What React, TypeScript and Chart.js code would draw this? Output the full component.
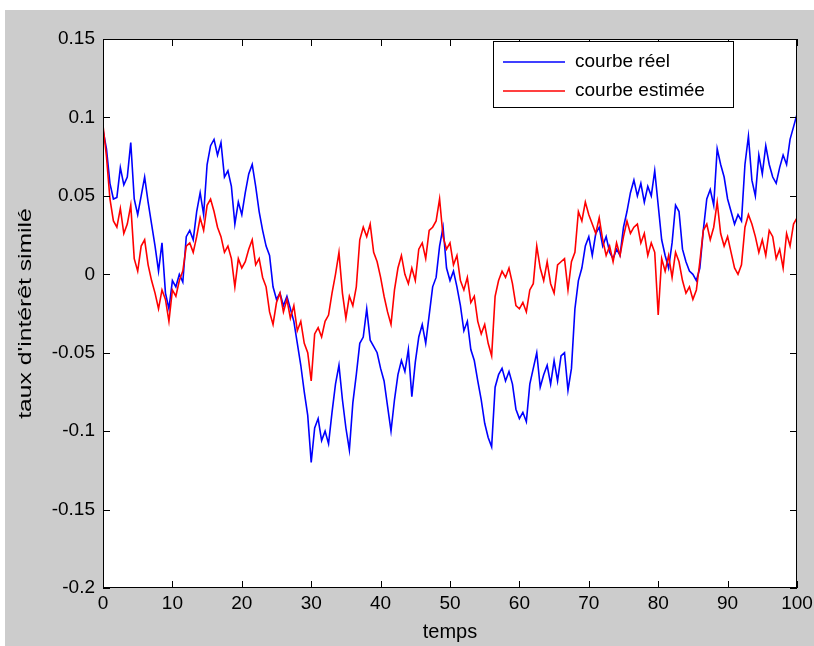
import React, { useEffect, useRef } from "react";
import { Chart, registerables } from "chart.js";

Chart.register(...registerables);

// time step between samples (temps)
const TIME_STEP = 0.5;

const realValues = [
  0.092, 0.080, 0.058, 0.048, 0.049, 0.068, 0.057, 0.062, 0.084, 0.048,
  0.038, 0.050, 0.062, 0.046, 0.032, 0.018, 0.002, 0.020, -0.012, -0.022,
  -0.004, -0.008, 0.000, -0.005, 0.024, 0.028, 0.022, 0.040, 0.052, 0.038,
  0.070, 0.082, 0.086, 0.076, 0.084, 0.062, 0.066, 0.056, 0.032, 0.046,
  0.038, 0.052, 0.064, 0.070, 0.056, 0.040, 0.028, 0.018, 0.012, -0.008,
  -0.016, -0.012, -0.020, -0.014, -0.022, -0.030, -0.044, -0.058, -0.075, -0.090,
  -0.120, -0.098, -0.092, -0.106, -0.100, -0.108, -0.088, -0.070, -0.058, -0.080,
  -0.098, -0.112, -0.082, -0.064, -0.044, -0.040, -0.022, -0.042, -0.046, -0.050,
  -0.060, -0.068, -0.084, -0.100, -0.080, -0.064, -0.055, -0.062, -0.048, -0.078,
  -0.056, -0.040, -0.032, -0.044, -0.026, -0.008, -0.002, 0.018, 0.030, 0.004,
  -0.004, 0.002, -0.008, -0.020, -0.036, -0.030, -0.048, -0.055, -0.068, -0.080,
  -0.095, -0.104, -0.110, -0.072, -0.064, -0.060, -0.068, -0.062, -0.070, -0.086,
  -0.092, -0.088, -0.094, -0.070, -0.060, -0.050, -0.072, -0.064, -0.058, -0.070,
  -0.055, -0.068, -0.052, -0.050, -0.074, -0.060, -0.022, -0.004, 0.004, 0.018,
  0.024, 0.012, 0.026, 0.030, 0.018, 0.024, 0.014, 0.010, 0.016, 0.012,
  0.030, 0.040, 0.052, 0.060, 0.050, 0.058, 0.046, 0.056, 0.050, 0.066,
  0.044, 0.022, 0.012, 0.004, 0.020, 0.044, 0.040, 0.016, 0.008, 0.002,
  0.000, -0.004, 0.004, 0.028, 0.048, 0.054, 0.044, 0.080, 0.070, 0.062,
  0.048, 0.040, 0.032, 0.038, 0.034, 0.070, 0.088, 0.060, 0.050, 0.076,
  0.064, 0.082, 0.070, 0.062, 0.058, 0.068, 0.076, 0.070, 0.086, 0.094,
  0.102,
];

const estimatedValues = [
  0.095, 0.075, 0.048, 0.034, 0.030, 0.042, 0.026, 0.032, 0.044, 0.010,
  0.002, 0.018, 0.022, 0.006, -0.004, -0.012, -0.022, -0.010, -0.016, -0.030,
  -0.010, -0.014, -0.004, 0.002, 0.018, 0.020, 0.014, 0.024, 0.036, 0.028,
  0.044, 0.048, 0.040, 0.030, 0.024, 0.014, 0.018, 0.010, -0.008, 0.010,
  0.004, 0.008, 0.016, 0.022, 0.006, 0.010, -0.002, -0.008, -0.024, -0.032,
  -0.018, -0.012, -0.024, -0.016, -0.028, -0.020, -0.036, -0.030, -0.044, -0.050,
  -0.068, -0.038, -0.034, -0.040, -0.030, -0.026, -0.012, 0.000, 0.014, -0.012,
  -0.028, -0.014, -0.020, -0.008, 0.022, 0.030, 0.024, 0.032, 0.014, 0.008,
  -0.002, -0.014, -0.024, -0.032, -0.010, 0.004, 0.012, 0.000, -0.006, 0.004,
  -0.004, 0.016, 0.020, 0.010, 0.028, 0.030, 0.034, 0.048, 0.024, 0.016,
  0.020, 0.006, 0.012, -0.004, -0.010, -0.002, -0.018, -0.014, -0.030, -0.038,
  -0.032, -0.044, -0.052, -0.014, -0.004, 0.002, -0.002, 0.004, -0.006, -0.020,
  -0.022, -0.018, -0.024, -0.010, -0.006, 0.018, 0.004, -0.004, 0.008, -0.006,
  -0.012, 0.006, 0.008, 0.010, -0.010, 0.008, 0.014, 0.040, 0.034, 0.046,
  0.038, 0.032, 0.026, 0.036, 0.022, 0.012, 0.018, 0.008, 0.020, 0.012,
  0.024, 0.034, 0.026, 0.030, 0.032, 0.020, 0.026, 0.012, 0.020, 0.014,
  -0.026, 0.010, 0.002, 0.012, -0.002, 0.014, 0.008, -0.004, -0.012, -0.008,
  -0.016, -0.010, 0.008, 0.028, 0.032, 0.022, 0.030, 0.046, 0.026, 0.018,
  0.024, 0.014, 0.004, 0.000, 0.006, 0.030, 0.038, 0.032, 0.024, 0.014,
  0.022, 0.012, 0.028, 0.024, 0.010, 0.016, 0.004, 0.026, 0.018, 0.032,
  0.036,
];

const xTickValues = [0, 10, 20, 30, 40, 50, 60, 70, 80, 90, 100];
const yTickValues = [-0.2, -0.15, -0.1, -0.05, 0, 0.05, 0.1, 0.15];

const seriesLabels = ["courbe réel", "courbe estimée"];
const seriesColors = ["#0000ff", "#ff0000"];
const xTitle = "temps";
const yTitle = "taux d'intérêt similé";

const FONT_FAMILY = '"Liberation Sans", Arial, Helvetica, sans-serif';

const matlabPlugin = {
  id: "matlabDecor",
  afterDraw(chart: any) {
    const ctx = chart.ctx;
    const { left, right, top, bottom } = chart.chartArea;
    const xs = chart.scales.x;
    const ys = chart.scales.y;
    ctx.save();
    ctx.strokeStyle = "#000";
    ctx.lineWidth = 1;
    // box
    ctx.strokeRect(left + 0.5, top + 0.5, right - left - 1, bottom - top - 1);
    // inward ticks
    const tl = 7;
    ctx.beginPath();
    xTickValues.forEach((v) => {
      const px = Math.round(xs.getPixelForValue(v)) + 0.5;
      ctx.moveTo(px, bottom);
      ctx.lineTo(px, bottom - tl);
      ctx.moveTo(px, top);
      ctx.lineTo(px, top + tl);
    });
    yTickValues.forEach((v) => {
      const py = Math.round(ys.getPixelForValue(v)) + 0.5;
      ctx.moveTo(left, py);
      ctx.lineTo(left + tl, py);
      ctx.moveTo(right, py);
      ctx.lineTo(right - tl, py);
    });
    ctx.stroke();

    // y axis title (stretched along its length like the reference)
    ctx.save();
    ctx.translate(26, (top + bottom) / 2);
    ctx.rotate(-Math.PI / 2);
    ctx.scale(1.3, 1);
    ctx.font = `19px ${FONT_FAMILY}`;
    ctx.fillStyle = "#000";
    ctx.textAlign = "center";
    ctx.textBaseline = "middle";
    ctx.fillText(yTitle, 0, 0);
    ctx.restore();

    // legend box
    const lx = 493;
    const ly = 41;
    const lw = 240;
    const lh = 66;
    ctx.fillStyle = "#ffffff";
    ctx.fillRect(lx, ly, lw, lh);
    ctx.strokeStyle = "#000";
    ctx.strokeRect(lx + 0.5, ly + 0.5, lw, lh);
    ctx.font = `19px ${FONT_FAMILY}`;
    ctx.textBaseline = "middle";
    ctx.textAlign = "left";
    seriesLabels.forEach((label, i) => {
      const yy = ly + 21 + i * 29;
      ctx.strokeStyle = seriesColors[i];
      ctx.lineWidth = 1.5;
      ctx.beginPath();
      ctx.moveTo(lx + 10, yy);
      ctx.lineTo(lx + 72, yy);
      ctx.stroke();
      ctx.fillStyle = "#000";
      ctx.fillText(label, lx + 82, yy);
    });
    ctx.restore();
  },
};

export default function App() {
  const canvasRef = useRef<HTMLCanvasElement | null>(null);

  useEffect(() => {
    if (!canvasRef.current) return;
    const toPoints = (vals: number[]) =>
      vals.map((v, i) => ({ x: i * TIME_STEP, y: v }));

    const chart = new Chart(canvasRef.current, {
      type: "line",
      data: {
        datasets: [
          {
            label: seriesLabels[0],
            data: toPoints(realValues),
            borderColor: seriesColors[0],
            borderWidth: 1.6,
            pointRadius: 0,
            tension: 0,
            order: 2,
          },
          {
            label: seriesLabels[1],
            data: toPoints(estimatedValues),
            borderColor: seriesColors[1],
            borderWidth: 1.6,
            pointRadius: 0,
            tension: 0,
            order: 1,
          },
        ],
      },
      options: {
        animation: false,
        responsive: false,
        events: [],
        layout: { padding: { left: 8, top: 39, right: 17, bottom: 2 } },
        plugins: {
          legend: { display: false },
          tooltip: { enabled: false },
        },
        scales: {
          x: {
            type: "linear",
            min: 0,
            max: 100,
            afterBuildTicks: (scale: any) => {
              scale.ticks = xTickValues.map((v) => ({ value: v }));
            },
            afterFit: (scale: any) => {
              scale.height = 56;
              scale.paddingLeft = 0;
              scale.paddingRight = 0;
            },
            ticks: {
              color: "#000",
              font: { family: FONT_FAMILY, size: 19 },
              padding: 4,
              maxRotation: 0,
              autoSkip: false,
              callback: (v: any) => String(v),
            },
            grid: { display: false, drawTicks: false },
            border: { display: false },
            title: {
              display: true,
              text: xTitle,
              color: "#000",
              font: { family: FONT_FAMILY, size: 20 },
              padding: { top: 0, bottom: 0 },
            },
          },
          y: {
            type: "linear",
            min: -0.2,
            max: 0.15,
            afterBuildTicks: (scale: any) => {
              scale.ticks = yTickValues.map((v) => ({ value: v }));
            },
            afterFit: (scale: any) => {
              scale.width = 95;
              scale.paddingTop = 0;
              scale.paddingBottom = 0;
            },
            ticks: {
              color: "#000",
              font: { family: FONT_FAMILY, size: 19 },
              padding: 8,
              autoSkip: false,
              callback: (v: any) => String(v),
            },
            grid: { display: false, drawTicks: false },
            border: { display: false },
            title: { display: false },
          },
        },
      },
      plugins: [matlabPlugin],
    });
    return () => chart.destroy();
  }, []);

  return (
    <div
      style={{
        position: "absolute",
        left: 0,
        top: 0,
        width: 814,
        height: 646,
        background: "#ffffff",
        overflow: "hidden",
      }}
    >
      <div
        style={{
          position: "absolute",
          left: 5,
          top: 10,
          width: 809,
          height: 636,
          background: "#cccccc",
        }}
      />
      <div
        style={{
          position: "absolute",
          left: 103,
          top: 39,
          width: 694,
          height: 549,
          background: "#ffffff",
        }}
      />
      <canvas
        ref={canvasRef}
        width={814}
        height={646}
        style={{ position: "absolute", left: 0, top: 0, width: 814, height: 646 }}
      />
    </div>
  );
}
